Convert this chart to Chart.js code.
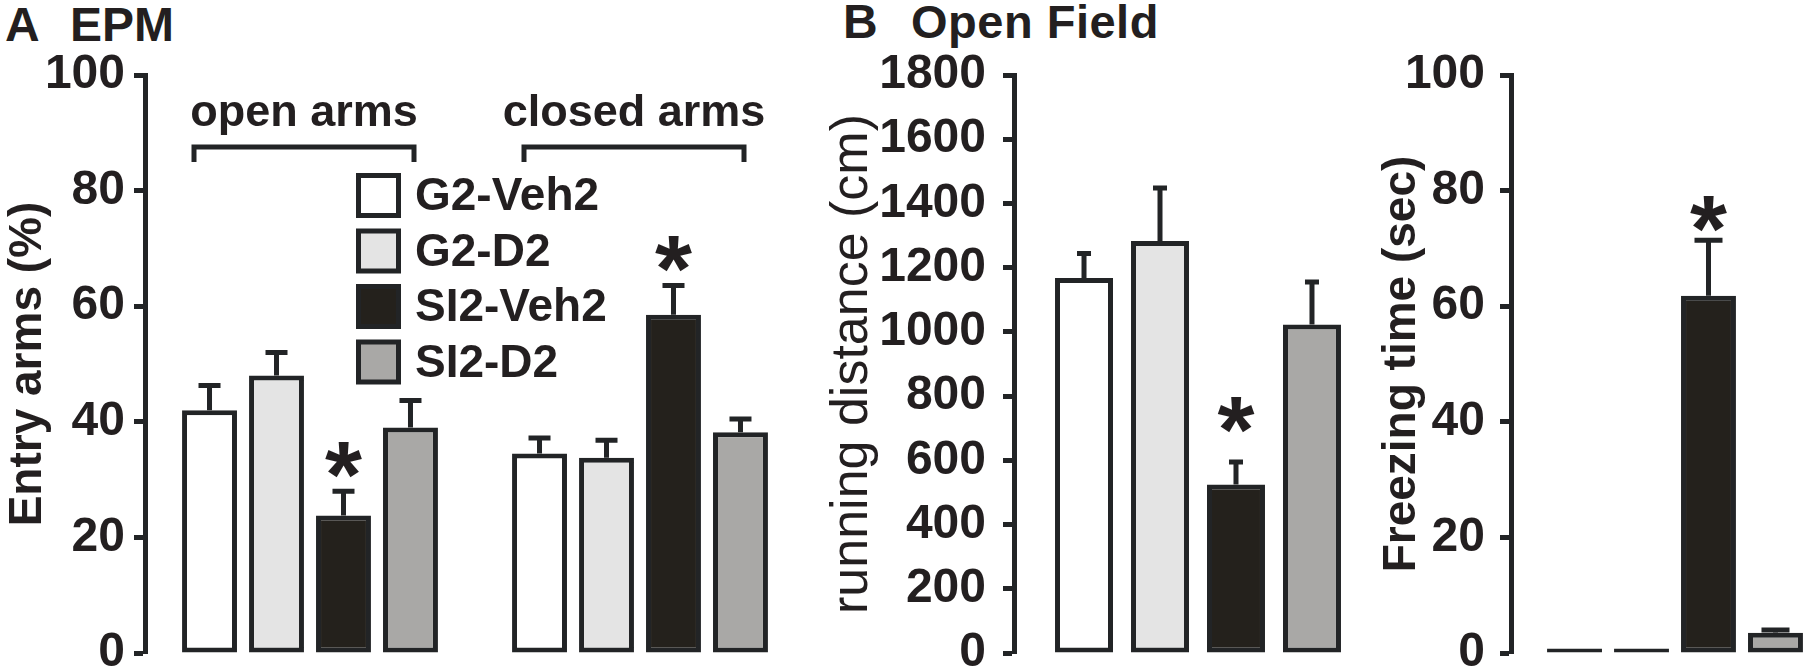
<!DOCTYPE html>
<html>
<head>
<meta charset="utf-8">
<script src="https://cdn.jsdelivr.net/npm/chart.js@4.4.1/dist/chart.umd.min.js"></script>
<style>
  html, body { margin: 0; padding: 0; background: #fff; overflow: hidden; width: 1803px; height: 666px; }
  .panel { position: absolute; top: 0; }
  .ttl { position: absolute; font: bold 48px 'Liberation Sans', Arial, sans-serif; color: #231f20; line-height: 48px; white-space: nowrap; }
</style>
</head>
<body>
<div class="ttl" style="left:5px;top:1px">A</div>
<div class="ttl" style="left:70px;top:1px">EPM</div>
<div class="ttl" style="left:843px;top:-2px">B</div>
<div class="ttl" style="left:911px;top:-2px;font-size:47px;letter-spacing:0.5px">Open Field</div>
<canvas id="epm" class="panel" width="820" height="700" style="left:0"></canvas>
<canvas id="dist" class="panel" width="566" height="700" style="left:824px"></canvas>
<canvas id="freeze" class="panel" width="480" height="700" style="left:1360px"></canvas>
<script>
// groups / series
const epmGroups = ['open arms', 'closed arms'];
const seriesNames = ['G2-Veh2', 'G2-D2', 'SI2-Veh2', 'SI2-D2'];
const seriesFill = ['#ffffff', '#e4e4e4', '#24211c', '#a9a8a6'];

// A - EPM, entry arms (%)
const openArmsMean = [42, 48, 23.8, 39];
const openArmsSem = [4.3, 4, 4.2, 4.7];
const openArmsSig = [false, false, true, false];
const closedArmsMean = [34.5, 33.8, 58.5, 38.2];
const closedArmsSem = [2.7, 3, 5.1, 2.3];
const closedArmsSig = [false, false, true, false];
const epmTicks = [0, 20, 40, 60, 80, 100];

// B - open field, running distance (cm)
const runDistMean = [1168, 1283, 525, 1023];
const runDistSem = [76, 165, 70, 132];
const runDistSig = [false, false, true, false];
const distTicks = [0, 200, 400, 600, 800, 1000, 1200, 1400, 1600, 1800];

// freezing time (sec)
const freezeMean = [0.8, 0.8, 61.8, 3.5];
const freezeSem = [0, 0, 9.6, 0.5];
const freezeSig = [false, false, true, false];
const freezeTicks = [0, 20, 40, 60, 80, 100];

const TEXT = '#231f20';
const LINE = '#222426';
const FONT = "'Liberation Sans', Arial, sans-serif";

// upper error bars + significance stars
const errorBars = {
  id: 'errorBars',
  afterDatasetsDraw(chart, args, opts) {
    const ctx = chart.ctx;
    const y = chart.scales.y;
    ctx.save();
    ctx.strokeStyle = LINE;
    ctx.lineWidth = 5;
    ctx.fillStyle = TEXT;
    ctx.font = 'bold 95px ' + FONT;
    ctx.textAlign = 'center';
    chart.data.datasets.forEach((ds, i) => {
      chart.getDatasetMeta(i).data.forEach((bar, j) => {
        const yTop = y.getPixelForValue(ds.data[j] + ds.sem[j]);
        if (ds.sem[j] > 0) {
          ctx.beginPath();
          ctx.moveTo(bar.x, bar.y);
          ctx.lineTo(bar.x, yTop);
          ctx.moveTo(bar.x - opts.cap / 2, yTop);
          ctx.lineTo(bar.x + opts.cap / 2, yTop);
          ctx.stroke();
        }
        if (ds.sig[j]) ctx.fillText('*', bar.x, yTop - opts.starGap + 52);
      });
    });
    ctx.restore();
  }
};

// "open arms" / "closed arms" with brackets
const groupBrackets = {
  id: 'groupBrackets',
  afterDraw(chart, args, o) {
    const ctx = chart.ctx;
    const x = chart.scales.x;
    ctx.save();
    ctx.fillStyle = TEXT;
    ctx.strokeStyle = LINE;
    ctx.lineWidth = 5;
    ctx.font = 'bold 45px ' + FONT;
    ctx.textAlign = 'center';
    chart.data.labels.forEach((lab, i) => {
      const cx = x.getPixelForValue(i) - 6;
      ctx.fillText(lab, cx, o.textY);
      ctx.beginPath();
      ctx.moveTo(cx - o.half, o.lineY + o.drop);
      ctx.lineTo(cx - o.half, o.lineY);
      ctx.lineTo(cx + o.half, o.lineY);
      ctx.lineTo(cx + o.half, o.lineY + o.drop);
      ctx.stroke();
    });
    ctx.restore();
  }
};

const legendBoxes = {
  id: 'legendBoxes',
  afterDraw(chart, args, o) {
    const ctx = chart.ctx;
    ctx.save();
    ctx.font = 'bold 46px ' + FONT;
    ctx.textBaseline = 'middle';
    chart.data.datasets.forEach((ds, i) => {
      const top = o.y + i * o.step;
      ctx.fillStyle = LINE;
      ctx.fillRect(o.x, top, o.size, o.size);
      ctx.fillStyle = ds.backgroundColor;
      ctx.fillRect(o.x + 5, top + 5, o.size - 10, o.size - 10);
      ctx.fillStyle = TEXT;
      ctx.fillText(ds.label, o.x + o.size + 14, top + o.size / 2 + 2);
    });
    ctx.restore();
  }
};

function makeDatasets(means, sems, sigs) {
  // means etc. hold one array per category
  return seriesNames.map((name, i) => ({
    label: name,
    data: means.map(m => m[i]),
    sem: sems.map(s => s[i]),
    sig: sigs.map(s => s[i]),
    backgroundColor: seriesFill[i],
    borderColor: LINE,
    borderWidth: 5,
    borderSkipped: false
  }));
}

function yAxis(ticks, title, titleFont, titlePad, width, tickPad) {
  return {
    min: ticks[0],
    max: ticks[ticks.length - 1],
    afterBuildTicks: s => { s.ticks = ticks.map(v => ({ value: v })); },
    afterFit: s => { s.width = width; },
    ticks: {
      color: TEXT,
      padding: tickPad,
      callback: v => String(v),
      font: { family: FONT, weight: 'bold', size: 48, lineHeight: 1 }
    },
    grid: { drawOnChartArea: false, drawTicks: true, tickLength: 11, tickWidth: 5, tickColor: LINE },
    border: { display: true, width: 5, color: LINE },
    title: { display: true, text: title, color: TEXT, font: titleFont, padding: { top: titlePad, bottom: 0 } }
  };
}

function baseOptions(y, padRight, cat, bar, extra) {
  return {
    responsive: false,
    animation: false,
    devicePixelRatio: 1,
    layout: { padding: { top: 75, bottom: 47, left: 0, right: padRight } },
    datasets: { bar: { categoryPercentage: cat, barPercentage: bar } },
    scales: { x: { display: false }, y: y },
    plugins: Object.assign({ legend: { display: false }, tooltip: { enabled: false } }, extra)
  };
}

new Chart(document.getElementById('epm'), {
  type: 'bar',
  data: {
    labels: epmGroups,
    datasets: makeDatasets([openArmsMean, closedArmsMean], [openArmsSem, closedArmsSem], [openArmsSig, closedArmsSig])
  },
  options: baseOptions(
    yAxis(epmTicks, 'Entry arms (%)', { family: FONT, weight: 'bold', size: 46, lineHeight: 1 }, 5, 145, 9),
    15, 0.812, 0.82,
    {
      errorBars: { cap: 22, starGap: 36 },
      groupBrackets: { textY: 126, lineY: 147, half: 110, drop: 15 },
      legendBoxes: { x: 356, y: 173, step: 55.5, size: 45 }
    }),
  plugins: [errorBars, groupBrackets, legendBoxes]
});

new Chart(document.getElementById('dist'), {
  type: 'bar',
  data: {
    labels: [''],
    datasets: makeDatasets([runDistMean], [runDistSem], [runDistSig])
  },
  options: baseOptions(
    yAxis(distTicks, 'running distance (cm)', { family: FONT, weight: 'normal', size: 52, lineHeight: 1 }, 3, 190, 17),
    8, 0.826, 0.763,
    { errorBars: { cap: 14, starGap: 52 } }),
  plugins: [errorBars]
});

new Chart(document.getElementById('freeze'), {
  type: 'bar',
  data: {
    labels: [''],
    datasets: makeDatasets([freezeMean], [freezeSem], [freezeSig])
  },
  options: baseOptions(
    yAxis(freezeTicks, 'Freezing time (sec)', { family: FONT, weight: 'bold', size: 46, lineHeight: 1 }, 19, 151, 15),
    1, 0.817, 0.82,
    { errorBars: { cap: 28, starGap: 31 } }),
  plugins: [errorBars]
});
</script>
</body>
</html>
